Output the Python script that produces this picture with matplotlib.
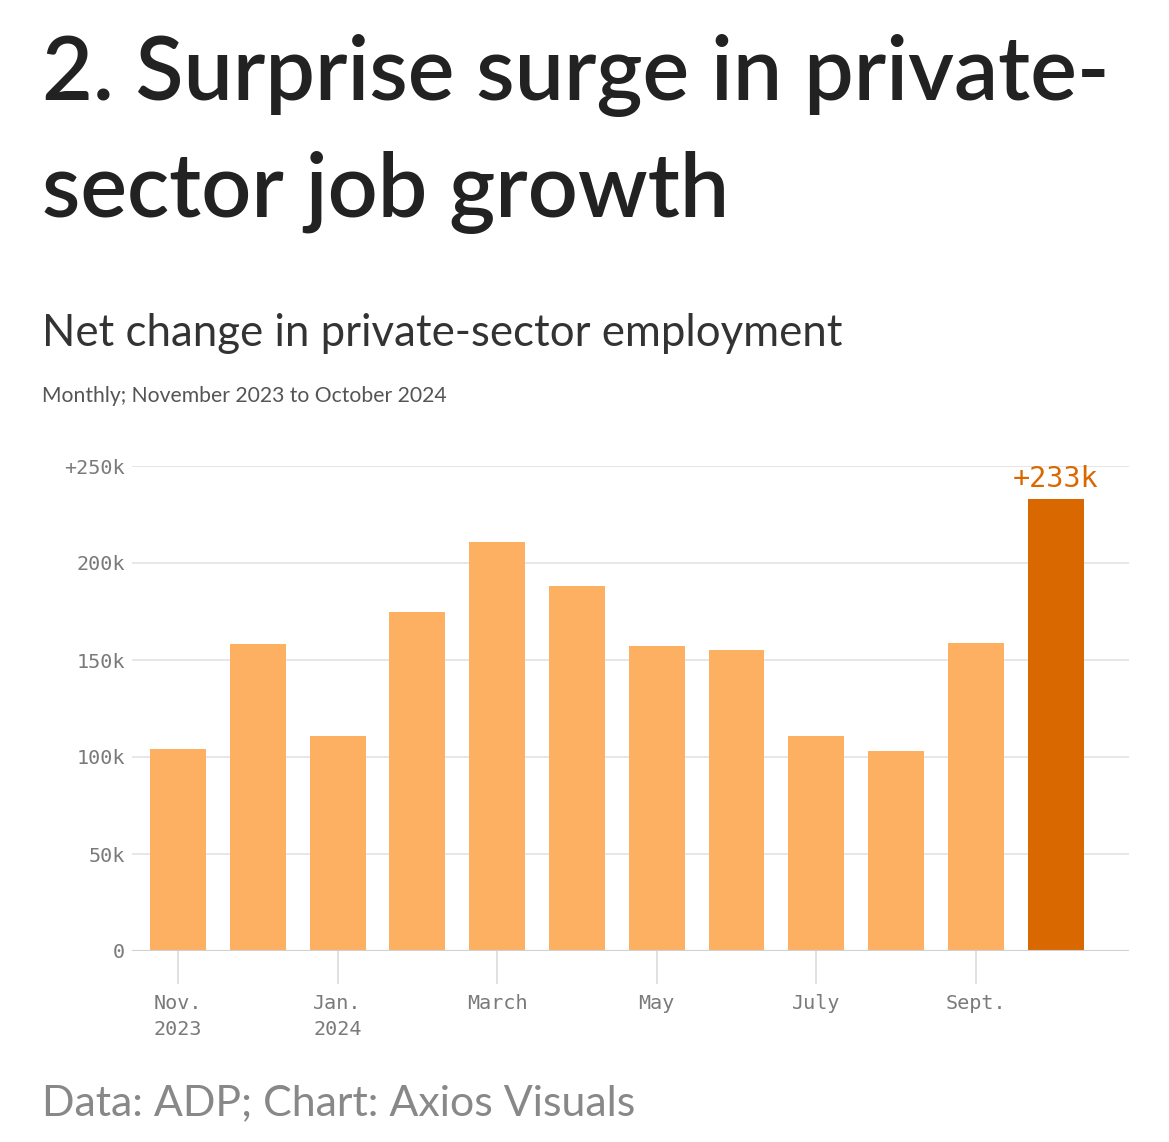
import matplotlib
matplotlib.use("Agg")
import matplotlib.pyplot as plt

months = ["Nov. 2023", "Dec. 2023", "Jan. 2024", "Feb. 2024", "March 2024", "April 2024",
          "May 2024", "June 2024", "July 2024", "Aug. 2024", "Sept. 2024", "Oct. 2024"]
values = [104, 158, 111, 175, 211, 188, 157, 155, 111, 103, 159, 233]  # thousands
tick_pos = [0, 2, 4, 6, 8, 10]
tick_labels = ["Nov.\n2023", "Jan.\n2024", "March", "May", "July", "Sept."]
y_ticks = [0, 50, 100, 150, 200, 250]
y_tick_labels = ["0", "50k", "100k", "150k", "200k", "+250k"]

light = "#fdb062"
dark = "#d96800"
mono = "DejaVu Sans Mono"
sans = "Lato"

W, H = 1169, 1142
fig = plt.figure(figsize=(W / 100, H / 100), dpi=100)
fig.patch.set_facecolor("white")

ax = fig.add_axes([132 / W, 1 - 951 / H, 997 / W, 485 / H])
colors = [light] * (len(values) - 1) + [dark]
x = list(range(len(values)))
ax.bar(x, values, width=0.70, color=colors, zorder=3)
ax.set_xlim(-0.577, 11.92)
ax.set_ylim(0, 250)

for s in ax.spines.values():
    s.set_visible(False)
ax.set_yticks(y_ticks)
ax.set_yticklabels(y_tick_labels, fontfamily=mono, fontsize=14.5, color="#7a7a7a")
ax.tick_params(axis="y", length=0, pad=5)
ax.grid(axis="y", color="#e3e3e3", linewidth=1.2, zorder=0)
ax.axhline(0, color="#d0d0d0", linewidth=1.5, zorder=4)

ax.set_xticks(tick_pos)
ax.set_xticklabels(tick_labels, fontfamily=mono, fontsize=14.5, color="#7a7a7a",
                   linespacing=1.45)
ax.tick_params(axis="x", length=24, width=1.2, color="#dcdcdc", pad=7)

ax.annotate("+233k", (x[-1], values[-1]), xytext=(0, 4), textcoords="offset points",
            ha="center", va="bottom", fontfamily=mono, fontsize=20.5, color=dark)

fig.text(42 / W, 1 - 100 / H, "2. Surprise surge in private-", fontfamily=sans,
         fontsize=63.3, fontweight="semibold", color="#222222", va="baseline", ha="left")
fig.text(42 / W, 1 - 217 / H, "sector job growth", fontfamily=sans,
         fontsize=63.3, fontweight="semibold", color="#222222", va="baseline", ha="left")
fig.text(42 / W, 1 - 346 / H, "Net change in private-sector employment", fontfamily=sans,
         fontsize=31.5, color="#333333", va="baseline", ha="left")
fig.text(42 / W, 1 - 402 / H, "Monthly; November 2023 to October 2024", fontfamily=sans,
         fontsize=15.2, color="#555555", va="baseline", ha="left")
fig.text(42 / W, 1 - 1115 / H, "Data: ADP; Chart: Axios Visuals", fontfamily=sans,
         fontsize=30.9, color="#888888", va="baseline", ha="left")

fig.savefig("out.png", dpi=100, facecolor="white")
